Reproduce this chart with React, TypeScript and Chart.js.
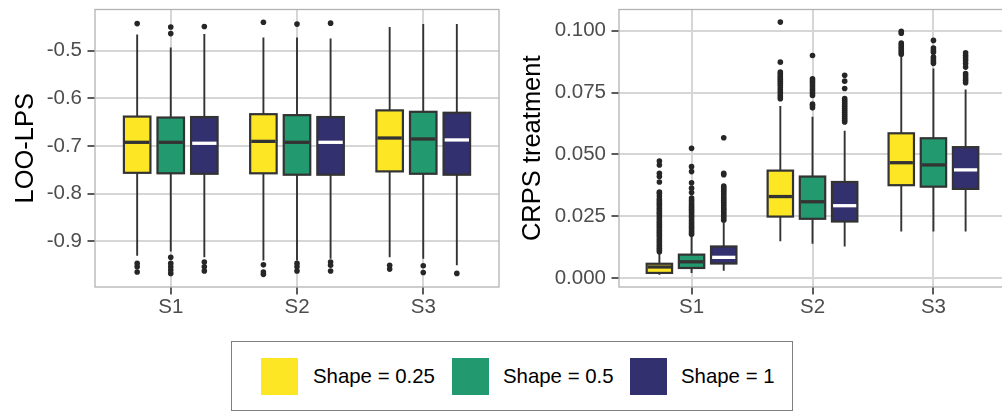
import React, { useEffect, useRef } from "react";
import { Chart, registerables } from "chart.js";

Chart.register(...registerables);

// ---- data ----
const SCENARIOS = ["S1", "S2", "S3"];
const SHAPE_LABELS = ["Shape = 0.25", "Shape = 0.5", "Shape = 1"];

// five-number summaries per scenario: [lower whisker, Q1, median, Q3, upper whisker]
const LOO_SHAPE_025 = [
  [-0.93, -0.756, -0.692, -0.638, -0.466],
  [-0.94, -0.757, -0.69, -0.633, -0.472],
  [-0.933, -0.753, -0.683, -0.625, -0.45],
];
const LOO_SHAPE_05 = [
  [-0.921, -0.757, -0.692, -0.64, -0.493],
  [-0.94, -0.76, -0.692, -0.635, -0.472],
  [-0.936, -0.758, -0.685, -0.628, -0.444],
];
const LOO_SHAPE_1 = [
  [-0.933, -0.758, -0.694, -0.639, -0.465],
  [-0.936, -0.76, -0.692, -0.639, -0.474],
  [-0.95, -0.76, -0.687, -0.63, -0.444],
];

const LOO_OUT_025 = [
  [-0.443, -0.946, -0.953, -0.964],
  [-0.44, -0.949, -0.964, -0.969],
  [-0.95, -0.958],
];
const LOO_OUT_05 = [
  [-0.45, -0.464, -0.933, -0.946, -0.953, -0.96, -0.967],
  [-0.444, -0.946, -0.953, -0.962],
  [-0.951, -0.965],
];
const LOO_OUT_1 = [
  [-0.449, -0.943, -0.953, -0.962],
  [-0.442, -0.943, -0.95, -0.962],
  [-0.967],
];

const CRPS_SHAPE_025 = [
  [0.0013, 0.002, 0.0044, 0.0057, 0.0097],
  [0.0148, 0.0248, 0.0329, 0.0434, 0.0695],
  [0.0188, 0.0375, 0.0466, 0.0585, 0.0896],
];
const CRPS_SHAPE_05 = [
  [0.002, 0.004, 0.0065, 0.0094, 0.0168],
  [0.0138, 0.0239, 0.0308, 0.041, 0.0652],
  [0.0188, 0.0369, 0.0457, 0.0565, 0.0847],
];
const CRPS_SHAPE_1 = [
  [0.0029, 0.0058, 0.0083, 0.0127, 0.0224],
  [0.0127, 0.0228, 0.0292, 0.0388, 0.0595],
  [0.0188, 0.036, 0.0437, 0.0529, 0.0762],
];

const CRPS_OUT_025 = [
  [
    0.0106, 0.0113, 0.012, 0.0128, 0.0135, 0.0143, 0.015, 0.0157, 0.0165, 0.0172,
    0.018, 0.0187, 0.0194, 0.0202, 0.0209, 0.0217, 0.0224, 0.0231, 0.0239, 0.0246,
    0.0254, 0.0261, 0.0268, 0.0276, 0.0283, 0.0291, 0.0298, 0.0305, 0.0313, 0.032,
    0.0331, 0.0342, 0.0347, 0.0388, 0.041, 0.0423, 0.0457, 0.0473,
  ],
  [
    0.0725, 0.0733, 0.0741, 0.0751, 0.076, 0.0769, 0.0779, 0.0788, 0.0796, 0.0804,
    0.0811, 0.0818, 0.0826, 0.0833, 0.0873, 0.1035,
  ],
  [0.0905, 0.0913, 0.092, 0.0928, 0.0935, 0.0943, 0.095, 0.099, 0.0998],
];
const CRPS_OUT_05 = [
  [
    0.0176, 0.0183, 0.019, 0.0198, 0.0205, 0.0212, 0.022, 0.0227, 0.0234, 0.0242,
    0.0249, 0.0256, 0.0264, 0.0271, 0.0278, 0.0286, 0.0293, 0.03, 0.0308, 0.0315,
    0.0323, 0.0345, 0.0363, 0.0385, 0.043, 0.045, 0.0524,
  ],
  [
    0.0688, 0.0696, 0.0703, 0.0738, 0.0747, 0.0756, 0.0764, 0.0773, 0.0781, 0.079,
    0.0798, 0.0806, 0.09,
  ],
  [0.0868, 0.0877, 0.0886, 0.0894, 0.0913, 0.0921, 0.093, 0.0961],
];
const CRPS_OUT_1 = [
  [
    0.0233, 0.024, 0.0248, 0.0255, 0.0262, 0.027, 0.0277, 0.0284, 0.0292, 0.0299,
    0.0306, 0.0314, 0.0321, 0.0328, 0.0336, 0.0343, 0.035, 0.0358, 0.0365, 0.0372,
    0.0417, 0.0423, 0.0567,
  ],
  [
    0.0631, 0.0638, 0.0646, 0.0654, 0.0662, 0.067, 0.0678, 0.0686, 0.0694, 0.0702,
    0.071, 0.0718, 0.0726, 0.0766, 0.0796, 0.082,
  ],
  [0.079, 0.08, 0.0809, 0.0818, 0.0827, 0.0853, 0.0867, 0.088, 0.0891, 0.09, 0.0911],
];

const LOO_TICKS = [-0.9, -0.8, -0.7, -0.6, -0.5];
const LOO_TICK_LABELS = ["-0.9", "-0.8", "-0.7", "-0.6", "-0.5"];
const CRPS_TICKS = [0, 0.025, 0.05, 0.075, 0.1];
const CRPS_TICK_LABELS = ["0.000", "0.025", "0.050", "0.075", "0.100"];

// ---- styling ----
const FONT = "'Liberation Sans', Arial, Helvetica, sans-serif";
const FILLS = ["#FDE725", "#22996E", "#33306F"];
const MEDIAN_COLORS = ["#333333", "#333333", "#FFFFFF"];
const LINE = "#333333";
const GRID = "#D6D6D6";
const PANEL_BORDER = "#B3B3B3";
const DODGE = 0.266;
const BOX_WIDTH = 0.21;

type PanelProps = {
  summaries: number[][][];
  outliers: number[][][];
  yMin: number;
  yMax: number;
  ticks: number[];
  tickLabels: string[];
  title: string;
  left: number;
  width: number;
  areaLeft: number;
  padRight: number;
  titlePad: number;
};

const HEIGHT = 330;

function BoxPanel(props: PanelProps) {
  const ref = useRef<HTMLCanvasElement | null>(null);

  useEffect(() => {
    const canvas = ref.current;
    if (!canvas) return;
    const { summaries, outliers } = props;

    const boxes = {
      id: "boxes",
      afterDatasetsDraw(chart: any) {
        const { ctx } = chart;
        const x = chart.scales.x;
        const y = chart.scales.y;
        ctx.save();
        summaries.forEach((series, s) => {
          series.forEach(([lo, q1, med, q3, hi], c) => {
            const xc = c + 1 + (s - 1) * DODGE;
            const px = x.getPixelForValue(xc);
            const l = x.getPixelForValue(xc - BOX_WIDTH / 2);
            const r = x.getPixelForValue(xc + BOX_WIDTH / 2);
            const yLo = y.getPixelForValue(lo);
            const yQ1 = y.getPixelForValue(q1);
            const yMed = y.getPixelForValue(med);
            const yQ3 = y.getPixelForValue(q3);
            const yHi = y.getPixelForValue(hi);
            // whiskers
            ctx.strokeStyle = LINE;
            ctx.lineWidth = 1.9;
            ctx.beginPath();
            ctx.moveTo(px, yHi);
            ctx.lineTo(px, yQ3);
            ctx.moveTo(px, yQ1);
            ctx.lineTo(px, yLo);
            ctx.stroke();
            // box
            ctx.fillStyle = FILLS[s];
            ctx.fillRect(l, yQ3, r - l, yQ1 - yQ3);
            ctx.lineWidth = 2.2;
            ctx.strokeRect(l, yQ3, r - l, yQ1 - yQ3);
            // median
            ctx.strokeStyle = MEDIAN_COLORS[s];
            ctx.lineWidth = 3.3;
            ctx.beginPath();
            ctx.moveTo(l + 1.1, yMed);
            ctx.lineTo(r - 1.1, yMed);
            ctx.stroke();
          });
        });
        ctx.restore();
      },
      afterDraw(chart: any) {
        const { ctx, chartArea } = chart;
        ctx.save();
        ctx.strokeStyle = PANEL_BORDER;
        ctx.lineWidth = 1.3;
        ctx.strokeRect(
          chartArea.left,
          chartArea.top,
          chartArea.right - chartArea.left,
          chartArea.bottom - chartArea.top
        );
        ctx.restore();
      },
    };

    const datasets = outliers.map((series, s) => ({
      type: "scatter" as const,
      label: SHAPE_LABELS[s],
      data: series.flatMap((vals, c) =>
        vals.map((v) => ({ x: c + 1 + (s - 1) * DODGE, y: v }))
      ),
      pointRadius: 2.8,
      pointBackgroundColor: "#262626",
      pointBorderWidth: 0,
      showLine: false,
    }));

    const tickFont = { family: FONT, size: 20.5, lineHeight: 1 };

    const chart = new Chart(canvas, {
      type: "scatter",
      data: { datasets },
      plugins: [boxes],
      options: {
        responsive: false,
        animation: false,
        devicePixelRatio: 1,
        events: [],
        layout: { padding: { top: 9.5, right: props.padRight, bottom: 0, left: 0 } },
        plugins: { legend: { display: false }, tooltip: { enabled: false } },
        scales: {
          x: {
            type: "linear",
            min: 0.4,
            max: 3.6,
            afterBuildTicks: (sc: any) => {
              sc.ticks = SCENARIOS.map((_, i) => ({ value: i + 1 }));
            },
            afterFit: (sc: any) => {
              sc.height = HEIGHT - 287;
              sc.paddingLeft = 0;
              sc.paddingRight = 0;
            },
            ticks: {
              callback: (v: any) => SCENARIOS[Math.round(Number(v)) - 1] ?? "",
              font: tickFont,
              color: "#4D4D4D",
              padding: 3,
              maxRotation: 0,
              autoSkip: false,
            },
            grid: {
              color: GRID,
              lineWidth: 2,
              tickColor: LINE,
              tickWidth: 1.6,
              tickLength: 7.5,
            },
            border: { display: false },
          },
          y: {
            type: "linear",
            min: props.yMin,
            max: props.yMax,
            afterBuildTicks: (sc: any) => {
              sc.ticks = props.ticks.map((v) => ({ value: v }));
            },
            afterFit: (sc: any) => {
              sc.width = props.areaLeft;
              sc.paddingTop = 0;
              sc.paddingBottom = 0;
            },
            ticks: {
              callback: (_v: any, i: number) => props.tickLabels[i],
              font: tickFont,
              color: "#4D4D4D",
              padding: 5.5,
            },
            grid: {
              color: GRID,
              lineWidth: 2,
              tickColor: LINE,
              tickWidth: 1.6,
              tickLength: 7.5,
            },
            border: { display: false },
            title: {
              display: true,
              text: props.title,
              color: "#000000",
              font: { family: FONT, size: 25.5, lineHeight: 1 },
              padding: { top: props.titlePad, bottom: 0 },
            },
          },
        },
      } as any,
    });

    return () => chart.destroy();
  }, []);

  return (
    <canvas
      ref={ref}
      width={props.width}
      height={HEIGHT}
      style={{
        position: "absolute",
        left: props.left,
        top: 0,
        width: props.width,
        height: HEIGHT,
      }}
    />
  );
}

const LEGEND_KEYS = [
  { keyLeft: 261, textLeft: 313 },
  { keyLeft: 452, textLeft: 503 },
  { keyLeft: 630, textLeft: 681 },
];

export default function App() {
  return (
    <div
      style={{
        position: "fixed",
        left: 0,
        top: 0,
        width: 1002,
        height: 413,
        overflow: "hidden",
        background: "#FFFFFF",
      }}
    >
      <BoxPanel
        summaries={[LOO_SHAPE_025, LOO_SHAPE_05, LOO_SHAPE_1]}
        outliers={[LOO_OUT_025, LOO_OUT_05, LOO_OUT_1]}
        yMin={-0.9955}
        yMax={-0.4134}
        ticks={LOO_TICKS}
        tickLabels={LOO_TICK_LABELS}
        title="LOO-LPS"
        left={0}
        width={510}
        areaLeft={95}
        padRight={11}
        titlePad={13}
      />
      <BoxPanel
        summaries={[CRPS_SHAPE_025, CRPS_SHAPE_05, CRPS_SHAPE_1]}
        outliers={[CRPS_OUT_025, CRPS_OUT_05, CRPS_OUT_1]}
        yMin={-0.0037}
        yMax={0.1086}
        ticks={CRPS_TICKS}
        tickLabels={CRPS_TICK_LABELS}
        title="CRPS treatment"
        left={500}
        width={510}
        areaLeft={119}
        padRight={2}
        titlePad={20}
      />
      <div
        style={{
          position: "absolute",
          left: 231,
          top: 341,
          width: 562,
          height: 70,
          boxSizing: "border-box",
          border: "1.5px solid #7F7F7F",
        }}
      />
      {SHAPE_LABELS.map((label, i) => (
        <React.Fragment key={label}>
          <div
            style={{
              position: "absolute",
              left: LEGEND_KEYS[i].keyLeft,
              top: 358,
              width: 37,
              height: 37,
              background: FILLS[i],
            }}
          />
          <div
            style={{
              position: "absolute",
              left: LEGEND_KEYS[i].textLeft,
              top: 358,
              height: 37,
              display: "flex",
              alignItems: "center",
              fontFamily: FONT,
              fontSize: 20.4,
              color: "#000000",
              whiteSpace: "nowrap",
            }}
          >
            {label}
          </div>
        </React.Fragment>
      ))}
    </div>
  );
}
